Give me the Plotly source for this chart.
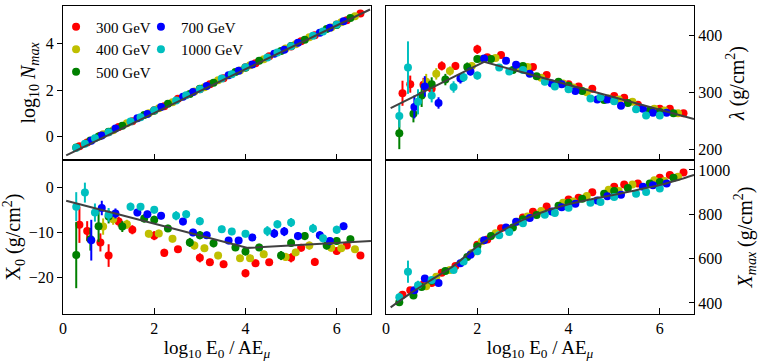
import plotly.graph_objects as go
from plotly.subplots import make_subplots

# x = log10(E0 / A E_mu), one list per muon energy threshold
x_300 = [0.36, 0.53, 0.82, 1.0, 1.22, 1.52, 2.0, 2.22, 2.52, 3.0, 3.22, 3.52, 4.0, 4.22, 4.52, 5.0, 5.22, 5.52, 6.0, 6.22, 6.52]
x_400 = [0.88, 1.1, 1.4, 1.88, 2.1, 2.4, 2.88, 3.1, 3.4, 3.88, 4.1, 4.4, 4.88, 5.1, 5.4, 5.88, 6.1, 6.4]
x_500 = [0.29, 0.6, 0.78, 1.0, 1.3, 1.78, 2.0, 2.3, 2.78, 3.0, 3.3, 3.78, 4.0, 4.3, 4.78, 5.0, 5.3, 5.78, 6.0, 6.3]
x_700 = [0.62, 0.85, 1.15, 1.63, 1.85, 2.15, 2.63, 2.85, 3.15, 3.63, 3.85, 4.15, 4.63, 4.85, 5.15, 5.63, 5.85, 6.15]
x_1000 = [0.29, 0.48, 0.7, 1.0, 1.48, 1.7, 2.0, 2.48, 2.7, 3.0, 3.48, 3.7, 4.0, 4.48, 4.7, 5.0, 5.48, 5.7, 6.0]

# log10 Nmax
nmax_300 = [-0.41, -0.25, 0.04, 0.19, 0.41, 0.66, 1.13, 1.30, 1.62, 2.03, 2.25, 2.50, 2.97, 3.15, 3.45, 3.86, 4.09, 4.35, 4.81, 4.99, 5.28]
nmax_400 = [0.10, 0.28, 0.58, 1.00, 1.22, 1.48, 1.94, 2.12, 2.42, 2.84, 3.06, 3.32, 3.78, 3.96, 4.26, 4.68, 4.90, 5.16]
nmax_500 = [-0.46, -0.16, 0.01, 0.21, 0.47, 0.93, 1.11, 1.41, 1.83, 2.05, 2.31, 2.77, 2.95, 3.25, 3.67, 3.89, 4.15, 4.61, 4.79, 5.09]
nmax_700 = [-0.17, 0.05, 0.35, 0.79, 0.97, 1.27, 1.71, 1.91, 2.17, 2.63, 2.83, 3.09, 3.55, 3.73, 4.03, 4.45, 4.67, 4.95]
nmax_1000 = [-0.47, -0.30, -0.07, 0.19, 0.65, 0.83, 1.13, 1.55, 1.77, 2.03, 2.49, 2.67, 2.97, 3.39, 3.61, 3.87, 4.33, 4.51, 4.81]

# lambda (g/cm2)
lam_300 = [298, 314, 313, 306, 346, 346, 375, 361, 365, 342, 344, 330, 314, 310, 306, 293, 290, 278, 271, 271, 263]
lam_err_300 = [22, 15, 12, 8, 8, 7, 8, 5, 5, 4, 4, 4, 4, 3, 3, 3, 3, 3, 3, 3, 3]
lam_400 = [318, 332, 337, 346, 358, 360, 345, 344, 325, 315, 308, 300, 289, 287, 283, 271, 268, 263]
lam_err_400 = [14, 10, 8, 6, 5, 5, 4, 4, 4, 4, 3, 3, 3, 3, 3, 3, 3, 3]
lam_500 = [228, 262, 294, 314, 322, 344, 358, 358, 339, 346, 328, 318, 311, 302, 286, 285, 281, 268, 265, 263]
lam_err_500 = [28, 15, 20, 12, 10, 8, 6, 5, 5, 4, 4, 4, 3, 3, 3, 3, 3, 3, 3, 3]
lam_700 = [274, 310, 281, 324, 336, 359, 355, 348, 332, 315, 314, 302, 287, 287, 276, 271, 264, 264]
lam_err_700 = [20, 18, 10, 9, 7, 5, 5, 5, 4, 4, 4, 3, 3, 3, 3, 3, 3, 3]
lam_1000 = [258, 343, 283, 294, 309, 326, 329, 343, 336, 339, 318, 310, 305, 289, 291, 284, 270, 259, 259]
lam_err_1000 = [20, 46, 22, 12, 10, 8, 7, 6, 5, 5, 4, 4, 3, 3, 3, 3, 3, 3, 3]

# X0 (g/cm2)
x0_300 = [-8.3, -9.7, -12.2, -15.1, -7.6, -9.4, -10.7, -14.5, -13.7, -15.6, -16.6, -17.0, -19.0, -16.8, -16.6, -15.6, -13.4, -16.5, -14.1, -12.9, -15.1]
x0_err_300 = [4.0, 2.2, 2.0, 2.5, 1.1, 1.0, 1.0, 0.9, 0.7, 1.0, 0.8, 0.8, 0.9, 0.8, 0.6, 1.0, 0.8, 0.9, 0.8, 0.7, 0.6]
x0_400 = [-8.7, -7.1, -8.2, -10.3, -10.2, -11.4, -12.9, -13.5, -15.1, -15.7, -15.7, -14.8, -15.4, -14.4, -12.9, -13.4, -13.5, -13.7]
x0_err_400 = [1.8, 1.2, 1.0, 0.8, 0.8, 0.8, 0.9, 0.8, 0.8, 0.8, 0.8, 0.8, 0.9, 0.8, 0.9, 0.8, 0.8, 0.7]
x0_500 = [-15.0, -11.5, -8.6, -6.5, -8.7, -6.9, -7.2, -9.1, -12.2, -10.6, -12.4, -13.3, -14.2, -13.3, -15.1, -12.3, -10.8, -12.9, -11.9, -11.5]
x0_err_500 = [7.3, 2.5, 3.5, 1.5, 1.2, 0.9, 0.9, 0.8, 1.0, 0.9, 0.9, 0.8, 0.9, 0.8, 1.0, 0.9, 0.9, 0.9, 0.8, 0.8]
x0_700 = [-11.7, -4.6, -5.8, -5.6, -6.0, -6.3, -7.6, -10.0, -10.6, -11.8, -11.8, -11.1, -10.2, -9.8, -10.8, -10.6, -11.9, -8.6]
x0_err_700 = [4.5, 1.6, 1.1, 0.8, 0.8, 0.8, 0.8, 0.8, 0.8, 0.8, 0.8, 0.8, 1.0, 1.0, 0.9, 0.9, 0.8, 0.8]
x0_1000 = [-4.3, -1.2, -5.6, -6.1, -4.3, -4.3, -5.0, -6.3, -6.0, -7.5, -9.3, -9.8, -10.3, -9.7, -8.2, -7.8, -9.1, -11.3, -9.4]
x0_err_1000 = [3.2, 2.2, 2.0, 1.5, 0.9, 0.8, 0.8, 1.0, 0.9, 0.9, 0.8, 0.8, 0.8, 1.1, 0.9, 1.0, 1.0, 0.9, 0.9]

# Xmax (g/cm2)
xmax_300 = [437, 457, 484, 490, 536, 567, 663, 686, 737, 785, 812, 835, 867, 875, 900, 924, 934, 939, 965, 977, 989]
xmax_err_300 = [12, 10, 8, 7, 6, 5, 5, 4, 4, 4, 4, 4, 4, 4, 4, 4, 4, 4, 4, 4, 4]
xmax_400 = [475, 518, 549, 625, 678, 714, 766, 790, 815, 852, 858, 882, 911, 905, 934, 954, 950, 969]
xmax_err_400 = [10, 7, 6, 5, 5, 4, 4, 4, 4, 4, 4, 4, 4, 4, 4, 4, 4, 4]
xmax_500 = [403, 434, 472, 500, 544, 607, 656, 702, 740, 778, 797, 839, 852, 870, 893, 905, 919, 939, 946, 965]
xmax_err_500 = [15, 10, 12, 6, 5, 5, 4, 4, 4, 4, 4, 4, 4, 4, 4, 4, 4, 4, 4, 4]
xmax_700 = [457, 510, 490, 579, 617, 683, 740, 766, 783, 813, 832, 847, 862, 881, 888, 924, 931, 939]
xmax_err_700 = [12, 10, 6, 5, 5, 4, 4, 4, 4, 4, 4, 4, 4, 4, 4, 4, 4, 4]
xmax_1000 = [426, 541, 480, 503, 549, 587, 633, 705, 720, 760, 798, 806, 829, 852, 855, 878, 893, 901, 916]
xmax_err_1000 = [20, 50, 20, 10, 6, 5, 5, 4, 4, 4, 4, 4, 4, 4, 4, 4, 4, 4, 4]

# fitted curves
fit_x_nmax = [0.07, 6.73]
fit_nmax = [-0.8, 5.45]
fit_x_lam = [0.1, 2.15, 6.75]
fit_lam = [272, 353, 253]
fit_x_x0 = [0.07, 4.05, 6.75]
fit_x0 = [-3.0, -13.4, -11.9]
fit_x_xmax = [0.1, 0.55, 1.0, 1.5, 2.0, 2.5, 3.0, 3.5, 4.0, 4.5, 5.0, 5.5, 6.0, 6.4, 6.75]
fit_xmax = [380, 445, 505, 570, 655, 720, 775, 815, 845, 868, 888, 910, 932, 955, 978]

series = [
    ("300 GeV", "#ff0000", x_300, nmax_300, lam_300, lam_err_300, x0_300, x0_err_300, xmax_300, xmax_err_300, "legend"),
    ("400 GeV", "#bfbf00", x_400, nmax_400, lam_400, lam_err_400, x0_400, x0_err_400, xmax_400, xmax_err_400, "legend"),
    ("500 GeV", "#008000", x_500, nmax_500, lam_500, lam_err_500, x0_500, x0_err_500, xmax_500, xmax_err_500, "legend"),
    ("700 GeV", "#0000ff", x_700, nmax_700, lam_700, lam_err_700, x0_700, x0_err_700, xmax_700, xmax_err_700, "legend2"),
    ("1000 GeV", "#00bfbf", x_1000, nmax_1000, lam_1000, lam_err_1000, x0_1000, x0_err_1000, xmax_1000, xmax_err_1000, "legend2"),
]

FONT = "Liberation Serif, Times New Roman, serif"
MS = 8

fig = make_subplots(rows=2, cols=2, horizontal_spacing=0.024, vertical_spacing=0)

for name, col, xs, nm, lam, lam_e, x0, x0_e, xm, xm_e, leg in series:
    mk = dict(color=col, size=MS)
    fig.add_trace(go.Scatter(x=xs, y=nm, mode="markers", marker=mk, name=name,
                             legend=leg, showlegend=True), row=1, col=1)
    fig.add_trace(go.Scatter(x=xs, y=lam, mode="markers", marker=mk, showlegend=False,
                             error_y=dict(array=lam_e, color=col, thickness=2, width=0)),
                  row=1, col=2)
    fig.add_trace(go.Scatter(x=xs, y=x0, mode="markers", marker=mk, showlegend=False,
                             error_y=dict(array=x0_e, color=col, thickness=2, width=0)),
                  row=2, col=1)
    fig.add_trace(go.Scatter(x=xs, y=xm, mode="markers", marker=mk, showlegend=False,
                             error_y=dict(array=xm_e, color=col, thickness=2, width=0)),
                  row=2, col=2)

line = dict(color="#404040", width=2)
fig.add_trace(go.Scatter(x=fit_x_nmax, y=fit_nmax, mode="lines", line=line, showlegend=False), row=1, col=1)
fig.add_trace(go.Scatter(x=fit_x_lam, y=fit_lam, mode="lines", line=line, showlegend=False), row=1, col=2)
fig.add_trace(go.Scatter(x=fit_x_x0, y=fit_x0, mode="lines", line=line, showlegend=False), row=2, col=1)
fig.add_trace(go.Scatter(x=fit_x_xmax, y=fit_xmax, mode="lines", line=dict(color="#404040", width=2, shape="spline"),
                         showlegend=False), row=2, col=2)

tickfont = dict(family=FONT, size=16, color="black")
titlefont = dict(family=FONT, size=20, color="black")
xtitle = "log<sub>10</sub> E<sub>0</sub> / AE<sub><i>μ</i></sub>"

common_x = dict(range=[0, 6.75], dtick=2, tick0=0, ticks="inside", ticklen=6, tickcolor="black",
                showline=True, mirror=True, linecolor="black", linewidth=1, showgrid=False,
                zeroline=False, tickfont=tickfont, automargin=False)
fig.update_xaxes(**common_x)
fig.update_xaxes(showticklabels=False, row=1)
fig.update_xaxes(title=dict(text=xtitle, font=dict(family=FONT, size=19, color="black"), standoff=4), row=2)

common_y = dict(ticklen=5, tickcolor="black", showline=True, mirror=True,
                linecolor="black", linewidth=1, showgrid=False, zeroline=False, tickfont=tickfont,
                automargin=False)
fig.update_yaxes(**common_y)
fig.update_yaxes(range=[-1, 5.6], dtick=2, tick0=0, ticks="outside",
                 title=dict(text="log<sub>10</sub> <i>N<sub>max</sub></i>", font=titlefont, standoff=4),
                 row=1, col=1)
fig.update_yaxes(range=[181, 451], dtick=100, tick0=0, side="right", ticks="inside",
                 title=dict(text="<i>λ</i> (g/cm<sup>2</sup>)", font=titlefont, standoff=8),
                 row=1, col=2)
fig.update_yaxes(range=[-28, 6], dtick=10, tick0=0, ticks="outside",
                 title=dict(text="X<sub>0</sub> (g/cm<sup>2</sup>)", font=titlefont, standoff=4),
                 row=2, col=1)
fig.update_yaxes(range=[350, 1045], dtick=200, tick0=0, side="right", ticks="inside",
                 title=dict(text="<i>X<sub>max</sub></i> (g/cm<sup>2</sup>)", font=titlefont, standoff=8),
                 row=2, col=2)

leg_common = dict(font=dict(family=FONT, size=15, color="black"), bgcolor="rgba(0,0,0,0)",
                  itemsizing="trace", itemwidth=30, tracegroupgap=0,
                  xanchor="left", yanchor="top", orientation="v")
fig.update_layout(
    width=763, height=362,
    margin=dict(l=63, r=69, t=6, b=48),
    paper_bgcolor="white", plot_bgcolor="white",
    font=dict(family=FONT, color="black"),
    legend=dict(x=-0.011, y=0.985, **leg_common),
    legend2=dict(x=0.1235, y=0.985, **leg_common),
)

# the page's default body margin would shift the figure
fig.write_html("out.html", config={"displayModeBar": False},
               post_script="document.body.style.margin='0';")
